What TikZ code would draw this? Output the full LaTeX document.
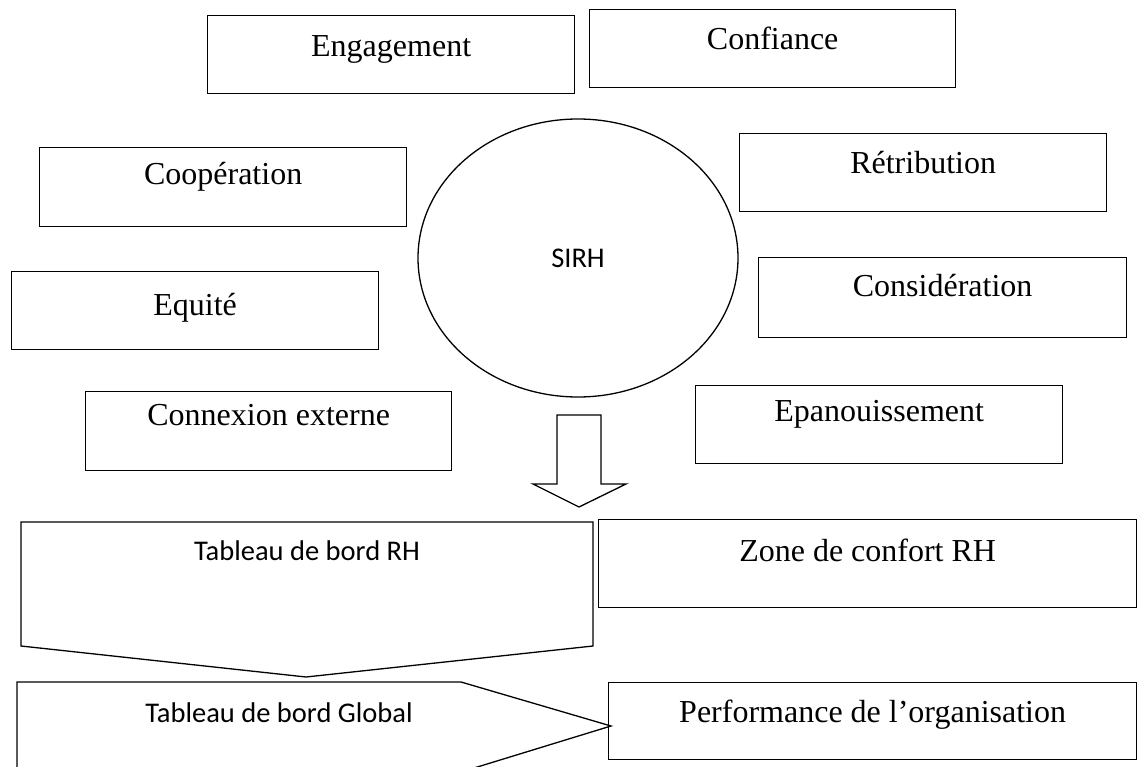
\documentclass[tikz,border=0pt]{standalone}
\usepackage{fontspec}
\setmainfont{Liberation Serif}
\newfontfamily\calibri{Carlito}
\usetikzlibrary{positioning,shapes.geometric}

\tikzset{
  wbox/.style={draw, line width=1.3pt, inner sep=0pt, anchor=north west, minimum width=367pt, font=\fontsize{32}{38}\selectfont},
  cfont/.style={inner sep=0pt, anchor=base, font=\calibri\fontsize{28.5}{34}\selectfont},
  shp/.style={draw, line width=1.3pt, line join=miter}
}

\begin{document}
\begin{tikzpicture}[x=1pt, y=-1pt]
  \useasboundingbox (0,0) rectangle (1138,767);

  \node[wbox, text height=41pt, text depth=37pt] (engagement) at (207,15) {Engagement};
  \node[wbox, minimum width=366pt, text height=40pt, text depth=38pt] (confiance) at (589,9) {Confiance};
  \node[wbox, text height=37pt, text depth=42pt] (cooperation) at (39,147) {Coopération};
  \node[wbox, text height=40pt, text depth=38pt] (retribution) at (739,133) {Rétribution};
  \node[wbox, text height=44pt, text depth=34pt] (equite) at (11,271) {Equité};
  \node[wbox, minimum width=368pt, text height=39pt, text depth=41pt] (consideration) at (758,257) {Considération};
  \node[wbox, minimum width=366pt, text height=34pt, text depth=45pt] (connexion) at (85,391) {Connexion externe};
  \node[wbox, text height=36pt, text depth=42pt] (epanouissement) at (695,385) {Epanouissement};

  \node[ellipse, draw, line width=1.3pt, minimum width=320pt, minimum height=278pt, inner sep=0pt,
        font=\calibri\fontsize{28.5}{34}\selectfont] (sirh) at (578,258) {SIRH};

  \draw[shp] (557,415) -- (601,415) -- (601,484) -- (626,484) -- (579,507) -- (533,484) -- (557,484) -- cycle;

  \draw[shp] (21,522) -- (593,522) -- (593,646) -- (306,677) -- (21,646) -- cycle;
  \node[cfont] (tbrh) at (307,560) {Tableau de bord RH};

  \node[wbox, minimum width=538pt, text height=42pt, text depth=46pt] (zone) at (598,519) {Zone de confort RH};

  \draw[shp] (17,772) -- (17,682) -- (461,682) -- (611,726) -- (461,772);
  \node[cfont] (tbglobal) at (279,722) {Tableau de bord Global};

  \node[wbox, minimum width=528pt, text height=40pt, text depth=37pt] (performance) at (608,682) {Performance de l’organisation};
\end{tikzpicture}
\end{document}
